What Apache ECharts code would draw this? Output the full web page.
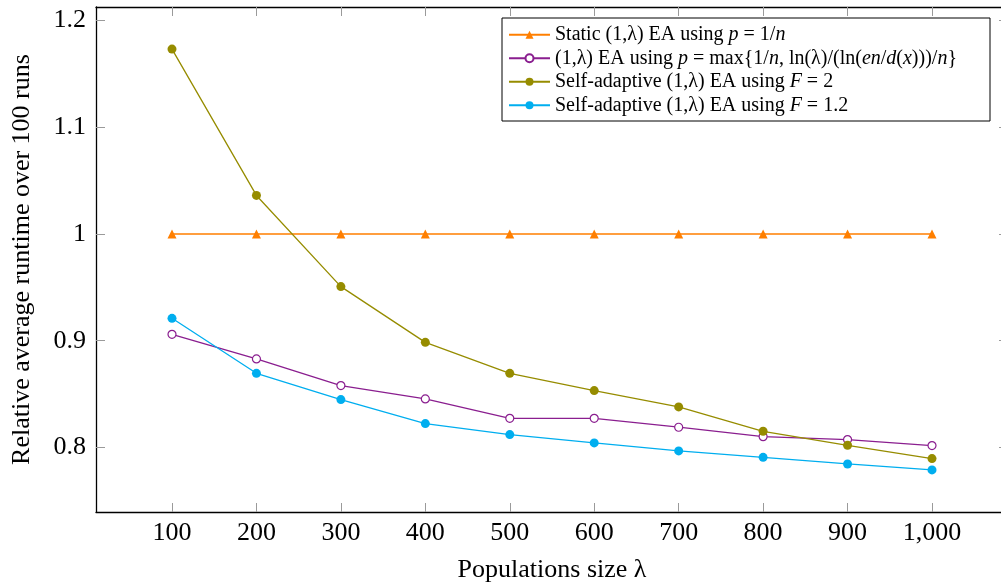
<!DOCTYPE html>
<html>
<head>
<meta charset="utf-8">
<script src="https://cdn.jsdelivr.net/npm/echarts@6/dist/echarts.min.js"></script>
<style>html,body{margin:0;padding:0;background:#fff;overflow:hidden}#c{width:1001px;height:587px}</style>
</head>
<body>
<div id="c"></div>
<script>
const lambdas = [100, 200, 300, 400, 500, 600, 700, 800, 900, 1000];
const staticEA = [1, 1, 1, 1, 1, 1, 1, 1, 1, 1];
const maxRateEA = [0.906, 0.883, 0.858, 0.8455, 0.8273, 0.8273, 0.819, 0.8102, 0.8074, 0.8018];
const selfAdaptF2 = [1.1732, 1.0361, 0.9507, 0.8985, 0.8695, 0.8533, 0.838, 0.8152, 0.8021, 0.7896];
const selfAdaptF12 = [0.921, 0.8695, 0.8449, 0.8224, 0.8121, 0.8043, 0.7968, 0.7908, 0.7846, 0.779];
const xTicks = [100, 200, 300, 400, 500, 600, 700, 800, 900, 1000];
const yTicks = [0.8, 0.9, 1, 1.1, 1.2];
const seriesNames = [
  'Static (1,λ) EA using {i|p} = 1/{i|n}',
  '(1,λ) EA using {i|p} = max{1/{i|n}, ln(λ)/(ln({i|en}/{i|d}({i|x})))/{i|n}}',
  'Self-adaptive (1,λ) EA using {i|F} = 2',
  'Self-adaptive (1,λ) EA using {i|F} = 1.2'
];

const FONT = '"Liberation Serif", "DejaVu Serif", serif';
const pair = arr => arr.map((v, i) => [lambdas[i], v]);

const chart = echarts.init(document.getElementById('c'), null, {renderer: 'canvas'});
const tickStyle = {show: true, inside: true, length: 9, lineStyle: {color: '#9a9a9a', width: 1}};
const axisLine = {show: true, onZero: false, lineStyle: {color: '#000', width: 1.3}};

chart.setOption({
  animation: false,
  textStyle: {fontFamily: FONT},
  grid: {left: 96, top: 7, width: 912, height: 505, containLabel: false, outerBoundsMode: 'none'},
  legend: {
    orient: 'vertical',
    left: 502, top: 18,
    padding: [5, 33, 4, 6],
    itemWidth: 41, itemHeight: 10, itemGap: 0,
    borderColor: '#000', borderWidth: 1,
    backgroundColor: '#fff',
    data: seriesNames,
    formatter: n => n,
    textStyle: {
      fontFamily: FONT, fontSize: 20, color: '#000', lineHeight: 23.5,
      rich: {i: {fontFamily: FONT, fontStyle: 'italic', fontSize: 20, color: '#000', lineHeight: 23.5}}
    }
  },
  xAxis: [{
    type: 'value', min: 10, max: 1090, position: 'bottom',
    name: 'Populations size λ', nameLocation: 'middle', nameGap: 45,
    nameTextStyle: {fontFamily: FONT, fontSize: 26, color: '#000'},
    axisLine: axisLine,
    axisTick: Object.assign({customValues: xTicks}, tickStyle),
    axisLabel: {customValues: xTicks, margin: 8, fontFamily: FONT, fontSize: 26, color: '#000',
      formatter: v => v >= 1000 ? String(v).replace(/\B(?=(\d{3})+(?!\d))/g, ',') : String(v)},
    splitLine: {show: false}
  }, {
    type: 'value', min: 10, max: 1090, position: 'top',
    axisLine: axisLine,
    axisTick: Object.assign({customValues: xTicks}, tickStyle),
    axisLabel: {show: false}, splitLine: {show: false}
  }],
  yAxis: [{
    type: 'value', min: 0.7396, max: 1.2126, position: 'left',
    name: 'Relative average runtime over 100 runs', nameLocation: 'middle', nameGap: 61, nameRotate: 90,
    nameTextStyle: {fontFamily: FONT, fontSize: 26, color: '#000'},
    axisLine: axisLine,
    axisTick: Object.assign({customValues: yTicks}, tickStyle),
    axisLabel: {customValues: yTicks, margin: 10, fontFamily: FONT, fontSize: 26, color: '#000',
      formatter: v => String(Math.round(v * 10) / 10)},
    splitLine: {show: false}
  }, {
    type: 'value', min: 0.7396, max: 1.2126, position: 'right',
    axisLine: axisLine,
    axisTick: Object.assign({customValues: yTicks}, tickStyle),
    axisLabel: {show: false}, splitLine: {show: false}
  }],
  series: [{
    name: seriesNames[0], type: 'line', data: pair(staticEA),
    symbol: 'triangle', symbolSize: 9,
    lineStyle: {color: '#ff7f00', width: 1.3},
    itemStyle: {color: '#ff7f00'}
  }, {
    name: seriesNames[1], type: 'line', data: pair(maxRateEA),
    symbol: 'circle', symbolSize: 8,
    lineStyle: {color: '#8a1e8f', width: 1.3},
    itemStyle: {color: '#fff', borderColor: '#8a1e8f', borderWidth: 1.2}
  }, {
    name: seriesNames[2], type: 'line', data: pair(selfAdaptF2),
    symbol: 'circle', symbolSize: 9,
    lineStyle: {color: '#968c00', width: 1.3},
    itemStyle: {color: '#968c00'}
  }, {
    name: seriesNames[3], type: 'line', data: pair(selfAdaptF12),
    symbol: 'circle', symbolSize: 9,
    lineStyle: {color: '#00aeef', width: 1.3},
    itemStyle: {color: '#00aeef'}
  }]
});
</script>
</body>
</html>
